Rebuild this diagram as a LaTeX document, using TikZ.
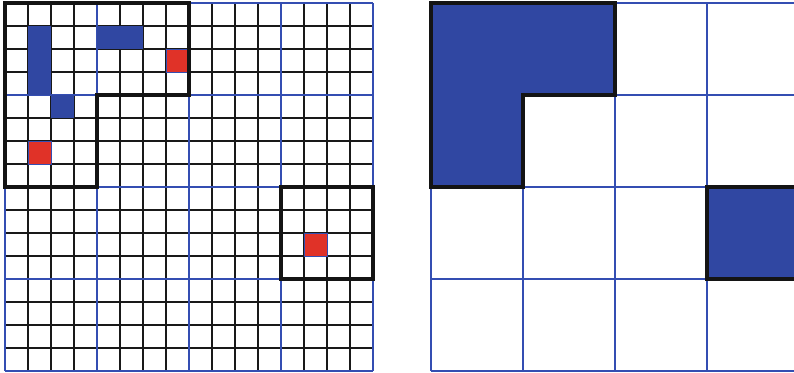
\documentclass[tikz,border=0pt]{standalone}
\definecolor{gridblue}{RGB}{52,78,178}
\definecolor{fillblue}{RGB}{48,71,162}
\definecolor{cellred}{RGB}{224,50,40}
\definecolor{outline}{RGB}{20,20,20}
\tikzset{
  fineline/.style={draw=black!90, line width=1.1pt},
  coarseline/.style={draw=gridblue, line width=1.2pt},
  bluecell/.style={fill=fillblue},
  redcell/.style={fill=cellred, draw=gridblue, line width=0.8pt},
  thickoutline/.style={draw=outline, line width=3.4pt, line join=miter},
}
\begin{document}
\begin{tikzpicture}[x=1pt,y=-1pt]
\useasboundingbox (0,0) rectangle (794,372);
\clip (0,0) rectangle (794,372);
% ---------- left grid (16x16, cell 23) ----------
\begin{scope}[shift={(5,3)}, x=23pt, y=-23pt]
  \foreach \i in {1,2,3,5,6,7,9,10,11,13,14,15} {
    \draw[fineline] (\i,0) -- (\i,16);
    \draw[fineline] (0,\i) -- (16,\i);
  }
  \foreach \i in {0,4,8,12,16} {
    \draw[coarseline] (\i,0) -- (\i,16);
    \draw[coarseline] (0,\i) -- (16,\i);
  }
  % blue cells
  \fill[bluecell] (1,1) rectangle (2,4);
  \fill[bluecell] (4,1) rectangle (6,2);
  \fill[bluecell] (2,4) rectangle (3,5);
  % red cells
  \draw[redcell] (7,2) rectangle (8,3);
  \draw[redcell] (1,6) rectangle (2,7);
  \draw[redcell] (13,10) rectangle (14,11);
  % outlines
  \draw[thickoutline] (0,0) -- (8,0) -- (8,4) -- (4,4) -- (4,8) -- (0,8) -- cycle;
  \draw[thickoutline] (12,8) rectangle (16,12);
\end{scope}
% ---------- right grid (4x4, cell 92) ----------
\begin{scope}[shift={(431,3)}, x=92pt, y=-92pt]
  \foreach \i in {0,1,2,3,4} {
    \draw[coarseline] (\i,0) -- (\i,4);
    \draw[coarseline] (0,\i) -- (4,\i);
  }
  \fill[bluecell] (0,0) -- (2,0) -- (2,1) -- (1,1) -- (1,2) -- (0,2) -- cycle;
  \fill[bluecell] (3,2) rectangle (4,3);
  \draw[thickoutline] (0,0) -- (2,0) -- (2,1) -- (1,1) -- (1,2) -- (0,2) -- cycle;
  \draw[thickoutline] (3,2) rectangle (4,3);
\end{scope}
\end{tikzpicture}
\end{document}
